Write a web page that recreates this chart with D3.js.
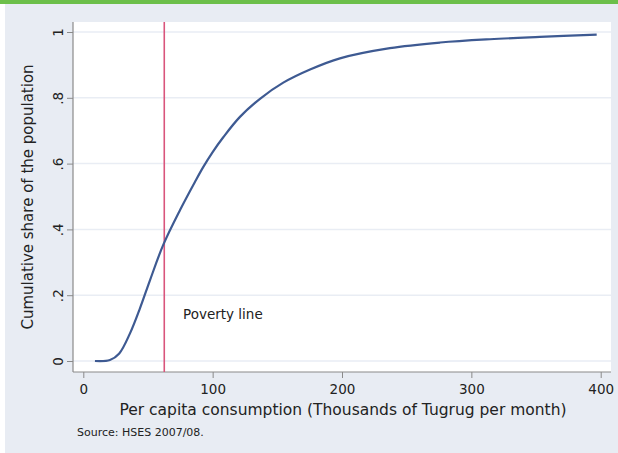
<!DOCTYPE html>
<html><head><meta charset="utf-8">
<script src="https://cdn.jsdelivr.net/npm/d3@7"></script>
<style>
html,body{margin:0;padding:0;background:#e8ecf3;}
svg{display:block;}
text{font-family:"DejaVu Sans",sans-serif;fill:#222;}
</style></head>
<body>
<svg id="c" width="618" height="453"></svg>
<script>
// Data
const consumption = [9, 20.6, 27.8, 36.1, 43.8, 51.6, 61.8, 74.8, 86.4, 92.8, 100, 108.2, 121.1, 136.6, 154.6, 175.3, 198.4, 237, 275.8, 314.4, 353, 396.9];
const cumShare    = [0, 0.003, 0.023, 0.084, 0.16, 0.246, 0.353, 0.459, 0.545, 0.59, 0.635, 0.68, 0.742, 0.797, 0.846, 0.886, 0.92, 0.951, 0.968, 0.978, 0.985, 0.992];
const xTicks = [0, 100, 200, 300, 400];
const yTicks = [0, 0.2, 0.4, 0.6, 0.8, 1];
const yTickLabels = ["0", ".2", ".4", ".6", ".8", "1"];
const povertyLine = 62.6;

const svg = d3.select("#c");
svg.append("rect").attr("x",0).attr("y",0).attr("width",5).attr("height",453).attr("fill","#fff");
svg.append("rect").attr("x",0).attr("y",0).attr("width",618).attr("height",4).attr("fill","#6cbf4a");

const x = d3.scaleLinear().domain([0,400]).range([83.3,600.7]);
const y = d3.scaleLinear().domain([0,1]).range([361,32]);
const plotL = 73, plotR = 611, plotT = 22, plotB = 372;

svg.append("rect").attr("x",plotL).attr("y",plotT).attr("width",plotR-plotL).attr("height",plotB-plotT).attr("fill","#fff");

svg.append("g").selectAll("line").data(yTicks).join("line")
  .attr("x1",plotL).attr("x2",plotR).attr("y1",d=>y(d)).attr("y2",d=>y(d))
  .attr("stroke","#e9edf4").attr("stroke-width",1.5);

const yAxis = d3.axisLeft(y).tickValues(yTicks).tickSize(6).tickFormat((d,i)=>yTickLabels[i]);
const gy = svg.append("g").attr("transform",`translate(${plotL},0)`).call(yAxis);
gy.select(".domain").attr("d",`M0,${plotT}V${plotB}`).attr("stroke","#8a8a8a").attr("stroke-width",1.2);
gy.selectAll(".tick line").attr("stroke","#8a8a8a");
gy.selectAll(".tick text").attr("font-size",13.5).attr("fill","#222")
  .attr("x",null).attr("dy",null)
  .attr("text-anchor","middle")
  .attr("transform","translate(-15,0) rotate(-90)")
  .attr("dy","0.35em");

const xAxis = d3.axisBottom(x).tickValues(xTicks).tickSize(6).tickFormat(d3.format("d"));
const gx = svg.append("g").attr("transform",`translate(0,${plotB})`).call(xAxis);
gx.select(".domain").attr("d",`M${plotL},0H${plotR}`).attr("stroke","#8a8a8a").attr("stroke-width",1.2);
gx.selectAll(".tick line").attr("stroke","#8a8a8a");
gx.selectAll(".tick text").attr("font-size",13.5).attr("fill","#222").attr("y",12);

svg.append("line").attr("x1",x(povertyLine)).attr("x2",x(povertyLine))
  .attr("y1",plotT).attr("y2",plotB).attr("stroke","#d9557c").attr("stroke-width",1.6);

const line = d3.line().x((d,i)=>x(consumption[i])).y(d=>y(d)).curve(d3.curveCatmullRom.alpha(0.5));
svg.append("path").datum(cumShare).attr("d",line)
  .attr("fill","none").attr("stroke","#3e5a92").attr("stroke-width",2.2);

svg.append("text").attr("x",183).attr("y",319).attr("font-size",13.5).text("Poverty line");
svg.append("text").attr("x",343).attr("y",415).attr("text-anchor","middle").attr("font-size",15.5)
  .text("Per capita consumption (Thousands of Tugrug per month)");
svg.append("text").attr("transform","translate(33,197) rotate(-90)").attr("text-anchor","middle").attr("font-size",15)
  .text("Cumulative share of the population");
svg.append("text").attr("x",77).attr("y",436).attr("font-size",11).text("Source: HSES 2007/08.");
</script>
</body></html>
